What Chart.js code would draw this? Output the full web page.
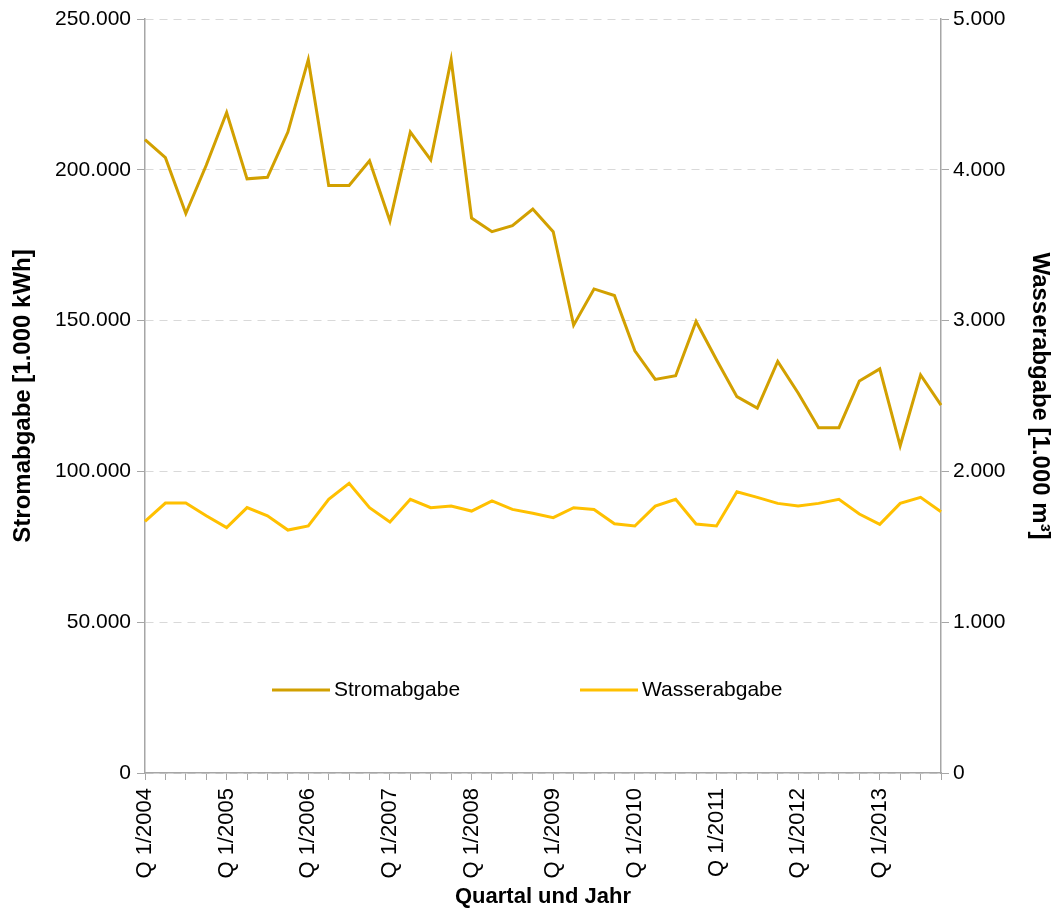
<!DOCTYPE html>
<html lang="de">
<head>
  <meta charset="UTF-8">
  <title>Strom- und Wasserabgabe</title>
  <script src="https://cdn.jsdelivr.net/npm/chart.js"></script>
  <style>
    html, body { margin: 0; padding: 0; background: #fff; }
  </style>
</head>
<body>
  <canvas id="chart" width="1054" height="912"></canvas>

  <script>
    const years = [2004, 2005, 2006, 2007, 2008, 2009, 2010, 2011, 2012, 2013];
    const quarters = [];
    years.forEach(y => { for (let q = 1; q <= 4; q++) quarters.push("Q " + q + "/" + y); });

    // Stromabgabe [1.000 kWh]
    const strom = [
      210000, 204000, 185500, 201500,
      219000, 197000, 197500, 212500,
      236500, 194800, 194800, 203000,
      183000, 212500, 203300, 236500,
      184000, 179500, 181500, 187000,
      179500, 148500, 160500, 158300,
      140000, 130500, 131700, 149700,
      137000, 124800, 121000, 136500,
      126000, 114500, 114500, 130000,
      134000, 108500, 132000, 122000
    ];

    // Wasserabgabe [1.000 m³]
    const wasser = [
      1668, 1790, 1790, 1706,
      1627, 1760, 1706, 1611,
      1638, 1815, 1921, 1759,
      1664, 1815, 1759, 1770,
      1737, 1804, 1748, 1722,
      1693, 1759, 1748, 1653,
      1638, 1770, 1815, 1651,
      1638, 1865, 1828, 1788,
      1770, 1788, 1815, 1717,
      1649, 1788, 1828, 1733
    ];

    const stromColor = "#D2A000";
    const wasserColor = "#FFC000";
    const axisColor = "#a6a6a6";

    function fmt(v) {
      return String(Math.round(v)).replace(/\B(?=(\d{3})+(?!\d))/g, ".");
    }

    const font = "'Liberation Sans', Arial, sans-serif";

    // legend sits inside the plot, below the lines
    const legendPlugin = {
      id: "innerLegend",
      afterDraw(chart) {
        const ctx = chart.ctx;
        const items = [
          { label: "Stromabgabe", color: stromColor, x: 272 },
          { label: "Wasserabgabe", color: wasserColor, x: 580 }
        ];
        ctx.save();
        ctx.font = "21px " + font;
        ctx.textBaseline = "middle";
        items.forEach(it => {
          ctx.strokeStyle = it.color;
          ctx.lineWidth = 3;
          ctx.beginPath();
          ctx.moveTo(it.x, 690);
          ctx.lineTo(it.x + 58, 690);
          ctx.stroke();
          ctx.fillStyle = "#000";
          ctx.fillText(it.label, it.x + 62, 690);
        });
        ctx.restore();
      }
    };

    new Chart(document.getElementById("chart"), {
      type: "line",
      data: {
        labels: quarters,
        datasets: [
          {
            label: "Stromabgabe",
            data: strom,
            yAxisID: "y",
            borderColor: stromColor,
            borderWidth: 3,
            pointRadius: 0,
            tension: 0
          },
          {
            label: "Wasserabgabe",
            data: wasser,
            yAxisID: "y2",
            borderColor: wasserColor,
            borderWidth: 3,
            pointRadius: 0,
            tension: 0
          }
        ]
      },
      options: {
        responsive: false,
        animation: false,
        layout: { padding: { top: 19, right: 0, left: 0, bottom: 0 } },
        plugins: {
          legend: { display: false },
          tooltip: { enabled: false }
        },
        scales: {
          x: {
            offset: false,
            afterFit: s => { s.height = 139; },
            border: { color: axisColor, width: 1.5 },
            grid: { drawOnChartArea: false, drawTicks: true, tickLength: 7, tickColor: axisColor, offset: false },
            ticks: {
              autoSkip: false,
              maxRotation: 90,
              minRotation: 90,
              padding: 8,
              color: "#000",
              font: { family: font, size: 22 },
              callback: (v, i) => (i % 4 === 0 ? quarters[i] : "")
            },
            title: {
              display: true,
              text: "Quartal und Jahr",
              color: "#000",
              font: { family: font, size: 22, weight: "bold" },
              padding: { top: 0, bottom: 2 }
            }
          },
          y: {
            position: "left",
            min: 0,
            max: 250000,
            afterFit: s => { s.width = 145; },
            border: { color: axisColor, width: 1.5, dash: [8, 6] },
            grid: { color: "#d9d9d9", tickLength: 8, tickColor: axisColor, tickBorderDash: [] },
            ticks: {
              stepSize: 50000,
              padding: 6,
              color: "#000",
              font: { family: font, size: 21 },
              callback: v => fmt(v)
            },
            title: {
              display: true,
              text: "Stromabgabe [1.000 kWh]",
              color: "#000",
              font: { family: font, size: 24, weight: "bold" },
              padding: { top: 9, bottom: 0 }
            }
          },
          y2: {
            position: "right",
            min: 0,
            max: 5000,
            afterFit: s => { s.width = 113; },
            border: { color: axisColor, width: 1.5 },
            grid: { drawOnChartArea: false, tickLength: 8, tickColor: axisColor },
            ticks: {
              stepSize: 1000,
              padding: 4,
              color: "#000",
              font: { family: font, size: 21 },
              callback: v => fmt(v)
            },
            title: {
              display: true,
              text: "Wasserabgabe [1.000 m³]",
              color: "#000",
              font: { family: font, size: 24, weight: "bold" },
              padding: { top: 0, bottom: 4 }
            }
          }
        }
      },
      plugins: [legendPlugin]
    });
  </script>
</body>
</html>
